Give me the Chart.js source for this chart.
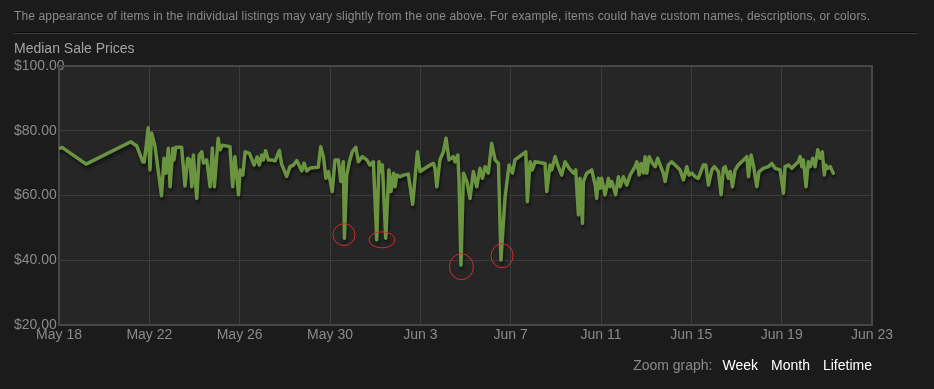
<!DOCTYPE html>
<html>
<head>
<meta charset="utf-8">
<script src="https://cdn.jsdelivr.net/npm/chart.js@4/dist/chart.umd.min.js"></script>
<style>
  html, body { margin: 0; padding: 0; background: #1b1b1b; width: 934px; height: 389px; overflow: hidden; font-family: Arial, "Liberation Sans", sans-serif; }
  #wrap { position: relative; width: 934px; height: 389px; }
  #note { position: absolute; left: 14px; top: 9px; font-size: 12px; letter-spacing: 0.13px; color: #8a8a8a; white-space: nowrap; }
  #rule { position: absolute; left: 14px; top: 32px; width: 904px; height: 1px; background: #0b0b0b; border-bottom: 1px solid #3e3e3e; }
  #title { position: absolute; left: 14px; top: 40px; font-size: 14px; color: #a3a3a3; white-space: nowrap; }
  #zoom { position: absolute; right: 62px; top: 357px; font-size: 14px; color: #8a8a8a; white-space: nowrap; }
  #zoom span { color: #fff; margin-left: 10px; }
  #zoom span + span { margin-left: 13px; }
  canvas { position: absolute; left: 0; top: 0; }
</style>
</head>
<body>
<div id="wrap">
  <canvas id="chartPrices" width="934" height="389"></canvas>
  <div id="note">The appearance of items in the individual listings may vary slightly from the one above. For example, items could have custom names, descriptions, or colors.</div>
  <div id="rule"></div>
  <div id="title">Median Sale Prices</div>
  <div id="zoom">Zoom graph:<span>Week</span><span>Month</span><span>Lifetime</span></div>
</div>
<script>
// x = days since May 18, y = median price (USD)
const dateTicks = ["May 18","May 22","May 26","May 30","Jun 3","Jun 7","Jun 11","Jun 15","Jun 19","Jun 23"];
const priceTicks = [20, 40, 60, 80, 100];

const saleDays = [
  0.01,0.15,1.20,3.18,3.44,3.71,3.77,3.85,3.95,4.03,4.10,4.25,4.54,4.65,4.74,4.84,4.92,5.04,5.09,5.17,
  5.43,5.58,5.70,5.80,5.88,5.95,6.10,6.21,6.32,6.40,6.54,6.69,6.79,6.88,7.05,7.13,7.23,7.57,7.69,7.79,
  7.95,8.02,8.14,8.24,8.43,8.64,8.77,8.87,8.98,9.05,9.15,9.27,9.42,9.57,9.76,9.86,10.08,10.23,10.38,10.53,
  10.75,10.85,10.97,11.12,11.48,11.59,11.71,11.82,11.93,12.10,12.22,12.37,12.48,12.59,12.64,12.74,12.86,12.99,13.14,13.26,
  13.43,13.63,13.77,13.92,14.07,14.17,14.26,14.32,14.47,14.61,14.70,14.81,14.88,14.96,15.10,15.25,15.47,15.66,15.87,15.99,
  16.21,16.43,16.58,16.65,16.73,16.87,17.02,17.14,17.27,17.46,17.54,17.66,17.71,17.80,17.91,18.06,18.20,18.35,18.50,18.64,
  18.75,18.87,19.01,19.16,19.31,19.46,19.57,19.75,19.93,20.08,20.19,20.67,20.74,20.86,20.96,21.08,21.52,21.60,21.74,21.82,
  21.97,22.11,22.26,22.41,22.59,22.78,22.88,23.00,23.07,23.18,23.22,23.37,23.59,23.74,23.81,23.88,23.96,24.03,24.18,24.33,
  24.40,24.48,24.65,24.77,24.85,24.99,25.14,25.29,25.51,25.59,25.69,25.77,25.88,25.95,26.03,26.13,26.28,26.40,26.51,26.62,
  26.76,26.84,26.98,27.13,27.36,27.50,27.65,27.80,27.90,28.02,28.17,28.31,28.53,28.64,28.76,28.91,29.02,29.20,29.32,29.42,
  29.50,29.64,29.72,29.82,29.94,30.08,30.31,30.46,30.53,30.65,30.75,30.90,31.00,31.19,31.41,31.56,31.71,31.93,32.08,32.15,
  32.30,32.45,32.59,32.74,32.82,32.89,32.96,33.08,33.18,33.26,33.38,33.48,33.60,33.70,33.80,33.89,33.95,34.04,34.15,34.29
];
const medianPrices = [
  74.6,74.8,69.7,76.6,75.3,70.4,70.3,74.6,80.9,67.9,79.3,75.3,59.9,71.5,66.9,74.6,62.7,74.6,71.0,74.9,
  74.9,62.9,71.5,71.0,62.7,72.5,59.1,72.5,73.5,70.0,71.0,62.7,74.7,62.7,77.7,74.1,75.5,75.1,62.7,72.0,
  60.2,67.9,66.3,73.5,73.0,69.4,71.9,69.4,72.5,71.0,73.8,71.0,71.0,70.7,73.9,69.7,65.9,68.9,69.4,70.8,
  67.6,70.0,67.6,68.5,68.7,75.1,72.0,65.3,67.4,61.2,71.0,71.0,64.3,70.4,46.8,66.3,70.4,73.5,74.9,70.4,
  72.0,71.0,69.4,70.4,46.3,70.4,67.4,69.4,46.8,67.9,61.2,66.9,62.7,66.3,65.8,66.3,66.6,57.3,73.5,67.4,
  68.4,69.4,69.9,68.4,62.7,71.0,73.5,77.7,71.0,72.0,70.4,72.5,65.3,38.5,66.9,64.3,59.1,67.4,62.7,68.4,
  65.3,68.9,66.9,76.1,71.0,69.9,40.1,59.2,69.4,66.9,71.0,73.5,58.1,70.4,67.9,70.4,69.9,61.2,69.4,67.9,
  72.0,68.9,66.3,70.4,68.4,66.9,67.9,54.0,65.3,51.4,64.3,66.9,67.9,63.2,59.1,65.3,62.2,65.3,60.2,65.3,
  62.7,64.3,60.2,65.8,62.7,65.8,63.2,66.3,68.9,70.4,66.3,69.9,66.9,72.0,66.9,72.0,69.9,68.9,71.5,69.4,
  66.9,64.3,69.4,70.4,68.9,67.9,64.8,68.9,66.3,66.9,65.8,65.3,69.4,69.4,63.2,67.9,68.9,67.4,60.2,68.4,
  68.9,65.3,67.4,62.7,67.9,69.4,71.0,72.0,65.8,72.5,69.4,62.7,67.4,68.4,68.9,69.9,68.4,67.9,60.7,68.9,
  69.4,68.4,69.4,70.4,72.0,68.9,71.0,62.7,70.4,68.9,71.5,68.9,74.1,71.5,73.5,66.3,69.4,68.4,68.9,66.9
];

// red rings someone drew around the dips
const markDays = [12.62, 14.30, 17.82, 19.62];
const markPrices = [47.9, 46.3, 38.0, 41.4];

const STEAM = {
  page: "#1b1b1b",
  plot: "#262626",
  grid: "#3c3c3c",
  border: "#474747",
  line: "#6a9440",
  text: "#8a8a8a",
  ring: "#d42a2a"
};

const ringSize = [[11, 11], [13, 8], [12, 13], [11, 12]];

const steamLook = {
  id: "steamLook",
  beforeDraw(chart){
    const { ctx, chartArea: a } = chart;
    ctx.save();
    ctx.fillStyle = STEAM.plot;
    ctx.fillRect(a.left, a.top, a.right - a.left, a.bottom - a.top);
    ctx.restore();
  },
  beforeDatasetsDraw(chart){
    const { ctx, chartArea: a, scales } = chart;
    ctx.save();
    ctx.fillStyle = STEAM.text;
    ctx.font = "14px Arial, 'Liberation Sans', sans-serif";
    ctx.textBaseline = "middle";
    ctx.textAlign = "left";
    for (const v of priceTicks){
      ctx.fillText("$" + v.toFixed(2), 14, scales.y.getPixelForValue(v));
    }
    ctx.textAlign = "center";
    dateTicks.forEach((t, i) => {
      ctx.fillText(t, scales.x.getPixelForValue(i * 4), a.bottom + 10);
    });
    ctx.strokeStyle = STEAM.border;
    ctx.lineWidth = 2;
    ctx.strokeRect(a.left, a.top, a.right - a.left, a.bottom - a.top);
    ctx.restore();
  },
  beforeDatasetDraw(chart){
    const ctx = chart.ctx;
    ctx.save();
    ctx.shadowColor = "rgba(0,0,0,0.55)";
    ctx.shadowOffsetX = 1;
    ctx.shadowOffsetY = 3;
    ctx.shadowBlur = 3;
  },
  afterDatasetDraw(chart){
    chart.ctx.restore();
  },
  afterDatasetsDraw(chart){
    const { ctx, scales } = chart;
    ctx.save();
    ctx.strokeStyle = STEAM.ring;
    ctx.lineWidth = 1;
    markDays.forEach((d, i) => {
      ctx.beginPath();
      ctx.ellipse(scales.x.getPixelForValue(d), scales.y.getPixelForValue(markPrices[i]),
        ringSize[i][0], ringSize[i][1], 0, 0, Math.PI * 2);
      ctx.stroke();
    });
    ctx.restore();
  }
};

new Chart(document.getElementById("chartPrices"), {
  type: "line",
  data: {
    datasets: [{
      data: saleDays.map((d, i) => ({ x: d, y: medianPrices[i] })),
      borderColor: STEAM.line,
      borderWidth: 3.5,
      borderJoinStyle: "round",
      borderCapStyle: "round",
      pointRadius: 0,
      tension: 0,
      fill: false
    }]
  },
  options: {
    responsive: false,
    animation: false,
    layout: { padding: { left: 59, top: 66, right: 62, bottom: 64 } },
    plugins: { legend: { display: false }, tooltip: { enabled: false } },
    scales: {
      x: {
        type: "linear", min: 0, max: 36,
        ticks: { display: false, stepSize: 4 },
        grid: { color: STEAM.grid, drawTicks: false },
        border: { display: false },
        afterFit(s){ s.height = 0; }
      },
      y: {
        min: 20, max: 100,
        ticks: { display: false, stepSize: 20 },
        grid: { color: STEAM.grid, drawTicks: false },
        border: { display: false },
        afterFit(s){ s.width = 0; }
      }
    }
  },
  plugins: [steamLook]
});
</script>
</body>
</html>
